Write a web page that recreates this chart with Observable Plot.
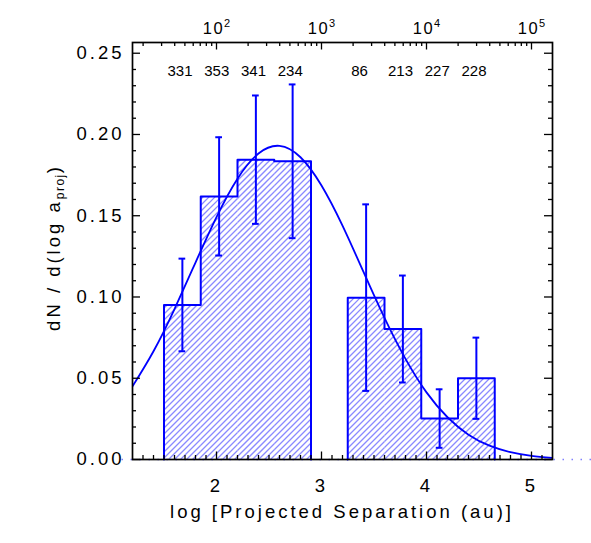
<!DOCTYPE html>
<html><head><meta charset="utf-8">
<script src="https://cdn.jsdelivr.net/npm/d3@7"></script>
<script src="https://cdn.jsdelivr.net/npm/@observablehq/plot@0.6"></script>
<style>body{margin:0;background:#fff} svg{display:block}</style>
</head><body><div id="chart"></div>
<script>
// ---- data ----
const binLeft  = [1.50, 1.85, 2.20, 2.55, 3.25, 3.60, 3.95, 4.30];
const binRight = [1.85, 2.20, 2.55, 2.90, 3.60, 3.95, 4.30, 4.65];
const density  = [0.0951, 0.1619, 0.1845, 0.1835, 0.0996, 0.0803, 0.0252, 0.0500];
const errors   = [0.0285, 0.0364, 0.0395, 0.0473, 0.0574, 0.0329, 0.0180, 0.0250];
const counts   = [331, 353, 341, 234, 86, 213, 227, 228];
const curveX = [1.2, 1.4, 1.6, 1.8, 2.0, 2.2, 2.4, 2.6, 2.8, 3.0, 3.2, 3.4, 3.6, 3.8, 4.0, 4.2, 4.4, 4.6, 4.8, 5.0, 5.2];
const curveY = [0.0450, 0.0666, 0.0926, 0.1212, 0.1492, 0.1728, 0.1883, 0.1930, 0.1860, 0.1686, 0.1439, 0.1154, 0.0871, 0.0619, 0.0413, 0.0260, 0.0153, 0.0085, 0.0045, 0.0022, 0.0010];
const xMajor = [2, 3, 4, 5];
const yMajor = [0, 0.05, 0.10, 0.15, 0.20, 0.25];
const topExponents = [2, 3, 4, 5];
const xDomain = [1.2, 5.2];
const yDomain = [0, 0.2566];
const xTitle = "log [Projected Separation (au)]";
const yTitleMain = "dN / d(log a";
const yTitleSub = "proj";

const W = 591, H = 543, mT = 42, mB = 84, mL = 132, mR = 39;
const iH = H - mT - mB, iW = W - mL - mR;
const BLUE = "#0000ff";
const HATCH = "#8a8aff";
const FONT = "Liberation Sans, Arial, sans-serif";

// ---- derived tables ----
const bars = binLeft.map((l, i) => ({
  x1: l, x2: binRight[i], v: density[i], c: (l + binRight[i]) / 2,
  lo: density[i] - errors[i], hi: density[i] + errors[i], n: counts[i]
}));
const outline = [];
let g = -1, prevR = null;
bars.forEach(b => {
  if (prevR === null || Math.abs(b.x1 - prevR) > 1e-9) {
    if (prevR !== null) outline.push({x: prevR, y: 0, g});
    g++;
    outline.push({x: b.x1, y: 0, g});
  }
  outline.push({x: b.x1, y: b.v, g});
  outline.push({x: b.x2, y: b.v, g});
  prevR = b.x2;
});
outline.push({x: prevR, y: 0, g});
const curve = curveX.map((x, i) => ({x, y: curveY[i]}));

// 45-degree hatching inside each bar (derived from the bar extents)
const kx = iW / (xDomain[1] - xDomain[0]), ky = iH / (yDomain[1] - yDomain[0]);
const step = 6;
const hatch = [];
bars.forEach(b => {
  const X1 = b.x1 * kx, X2 = b.x2 * kx, T = b.v * ky;
  for (let c = Math.ceil((X1 - T) / step) * step; c < X2; c += step) {
    const lo = Math.max(0, X1 - c), hi = Math.min(T, X2 - c);
    if (hi - lo > 0.2) hatch.push({x1: (c + lo) / kx, y1: lo / ky, x2: (c + hi) / kx, y2: hi / ky});
  }
});

const xMinor = d3.range(13, 52).map(d => d / 10).filter(d => !xMajor.includes(d));
const yMinor = d3.range(1, 26).map(d => d / 100).filter(d => !yMajor.some(m => Math.abs(m - d) < 1e-9));
const topMinor = [];
for (const n of [1, 2, 3, 4, 5]) for (let k = 2; k <= 9; k++) {
  const v = n + Math.log10(k);
  if (v > xDomain[0] && v < xDomain[1]) topMinor.push(v);
}

const chart = Plot.plot({
  width: W, height: H,
  marginTop: mT, marginBottom: mB, marginLeft: mL, marginRight: mR,
  style: {fontFamily: FONT, fontSize: "18.5px", background: "#fff", overflow: "visible"},
  x: {domain: xDomain},
  y: {domain: yDomain},
  marks: [
    Plot.link(hatch, {x1: "x1", y1: "y1", x2: "x2", y2: "y2", stroke: HATCH, strokeWidth: 1.3}),
    Plot.ruleY([0], {x1: xDomain[0] - 0.1, x2: xDomain[1] + 0.4, stroke: "#8080ff", strokeWidth: 1.5, strokeDasharray: "1.5,7.5"}),
    Plot.line(outline, {x: "x", y: "y", z: "g", stroke: BLUE, strokeWidth: 2}),
    Plot.line(curve, {x: "x", y: "y", curve: "natural", stroke: BLUE, strokeWidth: 1.8, clip: true}),
    Plot.ruleX(bars, {x: "c", y1: "lo", y2: "hi", stroke: BLUE, strokeWidth: 2}),
    Plot.ruleY(bars, {y: "hi", x1: d => d.c - 0.032, x2: d => d.c + 0.032, stroke: BLUE, strokeWidth: 2}),
    Plot.ruleY(bars, {y: "lo", x1: d => d.c - 0.032, x2: d => d.c + 0.032, stroke: BLUE, strokeWidth: 2}),
    Plot.frame({stroke: "#000", strokeWidth: 1.7}),
    // inward ticks: bottom
    Plot.tickX(xMajor, {x: d => d, insetTop: iH - 7.5, stroke: "#000", strokeWidth: 1.3}),
    Plot.tickX(xMinor, {x: d => d, insetTop: iH - 4, stroke: "#000", strokeWidth: 1.3}),
    // top
    Plot.tickX(topExponents, {x: d => d, insetBottom: iH - 7.5, stroke: "#000", strokeWidth: 1.3}),
    Plot.tickX(topMinor, {x: d => d, insetBottom: iH - 4, stroke: "#000", strokeWidth: 1.3}),
    // left / right
    Plot.tickY(yMajor, {y: d => d, insetRight: iW - 8, stroke: "#000", strokeWidth: 1.3}),
    Plot.tickY(yMinor, {y: d => d, insetRight: iW - 4, stroke: "#000", strokeWidth: 1.3}),
    Plot.tickY(yMajor, {y: d => d, insetLeft: iW - 8, stroke: "#000", strokeWidth: 1.3}),
    Plot.tickY(yMinor, {y: d => d, insetLeft: iW - 4, stroke: "#000", strokeWidth: 1.3}),
    Plot.axisX({anchor: "bottom", ticks: xMajor, tickFormat: d => String(d), tickSize: 0, tickPadding: 19, label: null}),
    Plot.axisY({anchor: "left", ticks: yMajor, tickFormat: d3.format(".2f"), tickSize: 0, tickPadding: 8, label: null}),
    // top log axis labels (base + exponent, split into tspans below)
    Plot.text(topExponents, {x: d => d, text: d => "10^" + d, frameAnchor: "top", lineAnchor: "bottom", textAnchor: "middle", dy: -9, fontSize: 16.5}),
    // counts
    Plot.text(bars, {x: "x1", text: d => String(d.n), frameAnchor: "top", lineAnchor: "middle", textAnchor: "start", dx: 3.5, dy: 29, fontSize: 15})
  ]
});

const svg = d3.select(chart);

// wide IDL-like spacing on axis labels
svg.selectAll('g[aria-label="x-axis tick label"] text, g[aria-label="y-axis tick label"] text')
  .style("letter-spacing", "3px");

// superscripts for the top log axis
svg.selectAll("text").each(function() {
  const t = d3.select(this);
  const s = t.text();
  const m = /^10\^(\d)$/.exec(s);
  if (!m) return;
  t.text("").style("letter-spacing", "1.5px");
  t.append("tspan").text("10");
  t.append("tspan").attr("dy", -7).attr("font-size", 11).style("letter-spacing", "0px").text(m[1]);
});

svg.append("text").attr("x", mL + iW / 2).attr("y", 518).attr("text-anchor", "middle")
  .attr("font-size", 18.5).attr("fill", "#000").style("letter-spacing", "3px").text(xTitle);

const yt = svg.append("text").attr("transform", `translate(60,${mT + iH / 2 - 3}) rotate(-90)`)
  .attr("text-anchor", "middle").attr("font-size", 18.5).attr("fill", "#000").style("letter-spacing", "3px");
yt.append("tspan").text(yTitleMain);
yt.append("tspan").attr("font-size", 12).attr("dy", 4).style("letter-spacing", "1.5px").text(yTitleSub);
yt.append("tspan").attr("dy", -4).text(")");

document.getElementById("chart").appendChild(chart);
</script>
</body></html>
